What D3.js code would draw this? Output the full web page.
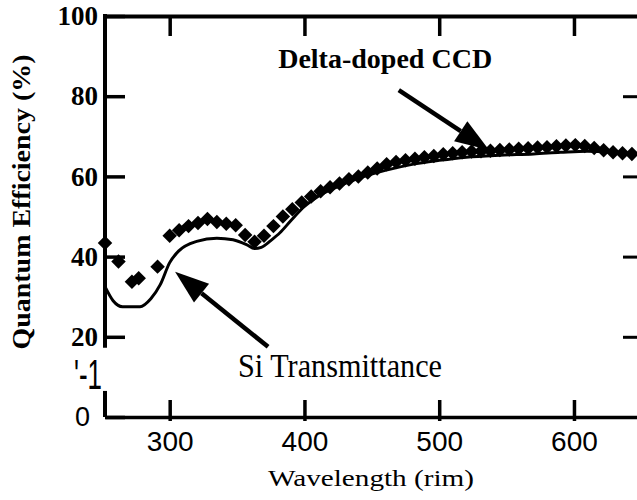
<!DOCTYPE html>
<html>
<head>
<meta charset="utf-8">
<script src="https://cdn.jsdelivr.net/npm/d3@7"></script>
<style>
  body { margin: 0; background: #fff; }
  svg { display: block; }
</style>
</head>
<body>
<div id="chart"></div>
<script>
// Delta-doped CCD measured QE (diamonds)
const ccdWavelength = [252, 262, 272, 277, 291, 300, 307, 314, 321, 328, 335, 342, 349, 356, 363, 370, 377,
  384, 391, 398, 405, 412, 419, 426, 433, 440, 447, 454, 461, 468, 475, 482, 489, 496, 503, 510, 517,
  524, 531, 538, 545, 552, 559, 566, 573, 580, 587, 594, 601, 608, 615, 622, 629, 636, 643];
const ccdQE = [43.4, 38.8, 33.7, 34.6, 37.5, 45.2, 46.6, 47.6, 48.4, 49.4, 48.6, 48.2, 47.8, 45.4, 43.7, 45.2, 47.6,
  50.0, 51.8, 53.5, 55.0, 56.3, 57.3, 58.2, 59.3, 60.0, 61.0, 62.0, 63.0, 63.6, 64.0, 64.4, 64.8, 65.1, 65.5, 65.8, 66.0,
  66.2, 66.3, 66.4, 66.6, 66.7, 66.9, 67.0, 67.2, 67.3, 67.5, 67.7, 67.8, 67.6, 67.1, 66.5, 66.0, 65.8, 65.6];

// Si transmittance (solid line)
const siWavelength = [252, 258, 265, 278, 286, 293, 300, 307, 320, 335, 347, 357, 363, 368, 375, 382, 390, 400,
  410, 425, 440, 460, 480, 500, 520, 545, 570, 590, 610, 630, 649];
const siQE = [32.5, 29.0, 27.5, 27.5, 29.5, 33.0, 38.5, 41.5, 43.8, 44.6, 44.2, 43.0, 42.0, 42.3, 44.0, 46.0, 49.0, 52.5,
  55.0, 57.5, 59.5, 61.5, 63.0, 64.0, 64.8, 65.3, 65.6, 66.0, 66.3, 66.0, 65.5];

const xTicks = [300, 400, 500, 600];
const yTicks = [0, 20, 40, 60, 80, 100];
const yRightTicks = [20, 40, 60, 80];
const axisBreak = [6.5, 17.3];

const labels = [
  { text: "Delta-doped CCD", x: 380.5, y: 87, bold: true, size: 27, length: 214 },
  { text: "Si Transmittance", x: 350.7, y: 10, bold: false, size: 33, length: 204 }
];
const arrows = [
  { from: [470, 81.5], to: [537, 66.6] },
  { from: [373, 17.5], to: [304, 36.2] }
];

const width = 637, height = 500;
const svg = d3.select("#chart").append("svg")
  .attr("width", width)
  .attr("height", height);

const x = d3.scaleLinear().domain([252, 649]).range([105, 640]);
const y = d3.scaleLinear().domain([0, 100]).range([417, 16]);

const serif = "'Liberation Serif', 'Times New Roman', serif";
const sans = "'Liberation Sans', Arial, sans-serif";

// Bottom axis
const bottomAxis = svg.append("g")
  .attr("transform", `translate(0,${y(0)})`)
  .call(d3.axisBottom(x).tickValues(xTicks).tickSizeInner(-17).tickSizeOuter(0));
bottomAxis.select(".domain").attr("stroke-width", 3.5);
bottomAxis.selectAll(".tick line").attr("y1", 4).attr("stroke-width", 3.5);
bottomAxis.selectAll(".tick text")
  .attr("y", 34).attr("dy", 0)
  .style("font-family", sans).style("font-size", "28px");

// Top axis
const topAxis = svg.append("g")
  .attr("transform", `translate(0,${y(100)})`)
  .call(d3.axisTop(x).tickValues(xTicks).tickSizeInner(-20).tickSizeOuter(0).tickFormat(""));
topAxis.select(".domain").attr("stroke-width", 4);
topAxis.selectAll(".tick line").attr("stroke-width", 3.5);

// Left axis (with a break in the spine)
const leftAxis = svg.append("g")
  .attr("transform", `translate(${x(252)},0)`)
  .call(d3.axisLeft(y).tickValues(yTicks).tickSizeInner(-20).tickSizeOuter(0).tickPadding(7));
leftAxis.select(".domain").remove();
leftAxis.selectAll(".tick line").attr("stroke-width", 3.5);
leftAxis.selectAll(".tick text")
  .style("font-family", d => d === 0 ? sans : serif)
  .style("font-weight", d => d === 0 ? "normal" : "bold")
  .style("font-size", "27px");
leftAxis.selectAll(".tick").filter(d => d === 0).select("text").attr("x", -15);
leftAxis.append("line")
  .attr("y1", y(100) - 2).attr("y2", y(axisBreak[1]))
  .attr("stroke", "#000").attr("stroke-width", 4);
leftAxis.append("line")
  .attr("y1", y(axisBreak[0])).attr("y2", y(0))
  .attr("stroke", "#000").attr("stroke-width", 4);

// Right axis ticks only (spine is off the page)
const rightAxis = svg.append("g")
  .attr("transform", `translate(${x(649)},0)`)
  .call(d3.axisLeft(y).tickValues(yRightTicks).tickSizeInner(17).tickSizeOuter(0).tickFormat(""));
rightAxis.select(".domain").attr("stroke-width", 4);
rightAxis.selectAll(".tick line").attr("stroke-width", 3);

// scan artefact next to the axis break
svg.append("text")
  .attr("x", 74).attr("y", 389)
  .attr("textLength", 28).attr("lengthAdjust", "spacingAndGlyphs")
  .style("font-family", sans).style("font-size", "42px")
  .text("'-1");

// Axis titles
svg.append("text")
  .attr("transform", "translate(30,202) rotate(-90)")
  .attr("text-anchor", "middle")
  .attr("textLength", 295).attr("lengthAdjust", "spacingAndGlyphs")
  .style("font-family", serif).style("font-weight", "bold").style("font-size", "25px")
  .text("Quantum Efficiency (%)");

svg.append("text")
  .attr("x", 268).attr("y", 486)
  .attr("textLength", 206).attr("lengthAdjust", "spacingAndGlyphs")
  .style("font-family", serif).style("font-size", "24px")
  .text("Wavelength (rim)");

// Si transmittance line
const siData = siWavelength.map((w, i) => [w, siQE[i]]);
svg.append("path")
  .datum(siData)
  .attr("fill", "none")
  .attr("stroke", "#000")
  .attr("stroke-width", 3)
  .attr("d", d3.line().curve(d3.curveMonotoneX).x(d => x(d[0])).y(d => y(d[1])));

// CCD diamonds
const diamond = d3.symbol().type(d3.symbolSquare).size(105);
svg.append("g")
  .selectAll("path")
  .data(ccdWavelength.map((w, i) => [w, ccdQE[i]]))
  .join("path")
  .attr("d", diamond)
  .attr("fill", "#000")
  .attr("transform", d => `translate(${x(d[0])},${y(d[1])}) rotate(45)`);

// Annotations
labels.forEach(l => {
  svg.append("text")
    .attr("x", x(l.x)).attr("y", y(l.y))
    .attr("textLength", l.length).attr("lengthAdjust", "spacingAndGlyphs")
    .style("font-family", serif)
    .style("font-weight", l.bold ? "bold" : "normal")
    .style("font-size", l.size + "px")
    .text(l.text);
});

arrows.forEach(a => {
  const x0 = x(a.from[0]), y0 = y(a.from[1]);
  const x1 = x(a.to[0]), y1 = y(a.to[1]);
  const ang = Math.atan2(y1 - y0, x1 - x0);
  const headLen = 34, headHalf = 12;
  const bx = x1 - headLen * Math.cos(ang), by = y1 - headLen * Math.sin(ang);
  svg.append("line")
    .attr("x1", x0).attr("y1", y0).attr("x2", bx).attr("y2", by)
    .attr("stroke", "#000").attr("stroke-width", 4.5);
  const px = -Math.sin(ang) * headHalf, py = Math.cos(ang) * headHalf;
  svg.append("path")
    .attr("d", `M${x1},${y1}L${bx + px},${by + py}L${bx - px},${by - py}Z`)
    .attr("fill", "#000");
});
</script>
</body>
</html>
